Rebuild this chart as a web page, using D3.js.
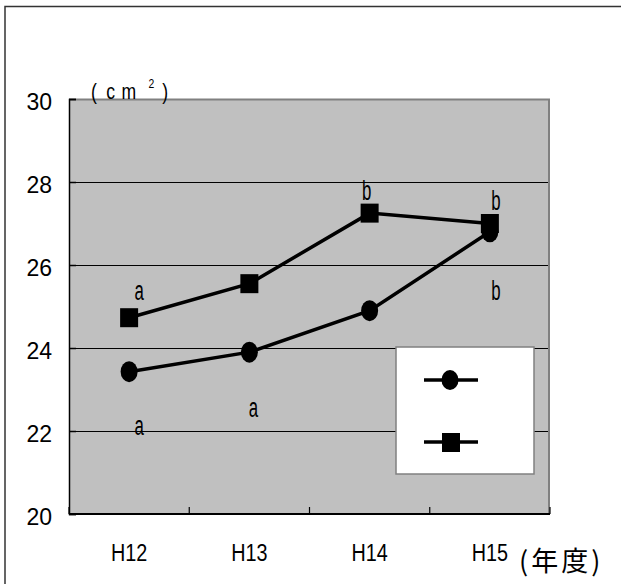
<!DOCTYPE html>
<html>
<head>
<meta charset="utf-8">
<script src="https://cdn.jsdelivr.net/npm/d3@7"></script>
<style>
  body { margin: 0; background: #fff; }
  svg { display: block; }
</style>
</head>
<body>
<div id="chart"></div>
<script>
//data
const years = ['H12', 'H13', 'H14', 'H15'];
const circleValues = [23.43, 23.9, 24.9, 26.8];
const squareValues = [24.73, 25.55, 27.25, 27.0];
const yTicks = [20, 22, 24, 26, 28, 30];
// significance letters, value = baseline in data units
const letters = [
	{ year: 'H12', text: 'a', value: 25.16 },
	{ year: 'H12', text: 'a', value: 21.9 },
	{ year: 'H13', text: 'a', value: 22.34 },
	{ year: 'H14', text: 'b', value: 27.57 },
	{ year: 'H15', text: 'b', value: 27.33 },
	{ year: 'H15', text: 'b', value: 25.16 },
];

//layout
const width = 621;
const height = 584;
const margin = { top: 99, right: 71, bottom: 70, left: 69 };
const plotW = width - margin.left - margin.right;
const plotH = height - margin.top - margin.bottom;
const letterDx = [10, 10, 4, -3, 6, 6];
const latin = 'Liberation Sans, Arial, sans-serif';

const svg = d3
	.select('#chart')
	.append('svg')
	.attr('width', width)
	.attr('height', height);

// outer frame
svg.append('rect')
	.attr('x', 5)
	.attr('y', 6.5)
	.attr('width', width + 10)
	.attr('height', height + 10)
	.attr('fill', 'none')
	.attr('stroke', '#333')
	.attr('stroke-width', 1.5);

const x = d3.scaleBand().domain(years).range([0, plotW]);
const y = d3.scaleLinear().domain([20, 30]).range([plotH, 0]);
const cx = (year) => x(year) + x.bandwidth() / 2;

const g = svg.append('g').attr('transform', translation(margin.left, margin.top));

g.append('rect')
	.attr('width', plotW)
	.attr('height', plotH)
	.attr('fill', '#c0c0c0');

// grid
g.selectAll('.grid')
	.data(yTicks.slice(1, -1))
	.enter()
	.append('line')
	.attr('x1', 0)
	.attr('x2', plotW)
	.attr('y1', (d) => y(d) + 0.5)
	.attr('y2', (d) => y(d) + 0.5)
	.attr('stroke', '#000')
	.attr('stroke-width', 1);

// top and right plot border
g.append('path')
	.attr('d', `M0,0.5H${plotW - 1}V${plotH}`)
	.attr('fill', 'none')
	.attr('stroke', '#808080')
	.attr('stroke-width', 2);

// y axis
const yAxis = g.append('g').call(
	d3.axisLeft(y).tickValues(yTicks).tickSize(-7).tickPadding(17)
);
yAxis.select('.domain').attr('stroke', '#000').attr('stroke-width', 1.5);
yAxis.selectAll('.tick line').attr('stroke', '#000').attr('stroke-width', 1.5);
yAxis.selectAll('text')
	.attr('font-family', latin)
	.attr('font-size', 23)
	.attr('dy', '0.45em')
	.attr('fill', '#000');

// x axis
const xTickPos = years.map((d) => x(d)).concat([plotW]);
const xAxisG = g.append('g').attr('transform', translation(0, plotH));
xAxisG.append('line')
	.attr('x1', 0)
	.attr('x2', plotW)
	.attr('stroke', '#000')
	.attr('stroke-width', 2);
xAxisG.selectAll('.xtick')
	.data(xTickPos)
	.enter()
	.append('line')
	.attr('x1', (d) => d)
	.attr('x2', (d) => d)
	.attr('y1', 0)
	.attr('y2', -7)
	.attr('stroke', '#000')
	.attr('stroke-width', 1.2);
xAxisG.selectAll('.xlabel')
	.data(years)
	.enter()
	.append('text')
	.attr('text-anchor', 'middle')
	.attr('font-family', latin)
	.attr('font-size', 23)
	.attr('transform', (d) => `translate(${cx(d)},47) scale(0.86,1)`)
	.text((d) => d);

// unit labels
const unit = svg.append('text')
	.attr('font-family', latin)
	.attr('font-size', 22)
	.attr('transform', 'translate(91,99) scale(0.8,1)');
[['(', 0], ['c', 19], ['m', 38], [')', 89]].forEach(([t, px]) => {
	unit.append('tspan').attr('x', px).attr('y', 0).text(t);
});
unit.append('tspan')
	.attr('x', 72)
	.attr('y', -11)
	.attr('font-size', 13)
	.text('2');

svg.append('text')
	.attr('x', 519)
	.attr('y', 571)
	.attr('font-family', 'Noto Sans CJK JP, sans-serif')
	.attr('font-size', 27)
	.attr('letter-spacing', 3)
	.text('(年度)');

// lines
const line = d3
	.line()
	.x((d, i) => cx(years[i]))
	.y((d) => y(d));

[circleValues, squareValues].forEach((vals) => {
	g.append('path')
		.datum(vals)
		.attr('d', line)
		.attr('fill', 'none')
		.attr('stroke', '#000')
		.attr('stroke-width', 3.5);
});

g.selectAll('.sq')
	.data(squareValues)
	.enter()
	.append('rect')
	.attr('x', (d, i) => cx(years[i]) - 9)
	.attr('y', (d) => y(d) - 9.5)
	.attr('width', 18)
	.attr('height', 19)
	.attr('fill', '#000');

g.selectAll('.dot')
	.data(circleValues)
	.enter()
	.append('ellipse')
	.attr('cx', (d, i) => cx(years[i]))
	.attr('cy', (d) => y(d))
	.attr('rx', 8.5)
	.attr('ry', 10.5)
	.attr('fill', '#000');

// letters
g.selectAll('.letter')
	.data(letters)
	.enter()
	.append('text')
	.attr('font-family', latin)
	.attr('font-size', 28)
	.attr('text-anchor', 'middle')
	.attr('transform', (d, i) => `translate(${cx(d.year) + letterDx[i]},${y(d.value)}) scale(0.6,1)`)
	.text((d) => d.text);

// legend
const legend = svg.append('g').attr('transform', translation(396, 347));
legend.append('rect')
	.attr('width', 138)
	.attr('height', 127)
	.attr('fill', '#fff')
	.attr('stroke', '#808080')
	.attr('stroke-width', 1.5);
const legendItems = ['circle', 'square'];
legendItems.forEach((type, i) => {
	let ly = 33 + i * 62;
	legend.append('line')
		.attr('x1', 28)
		.attr('x2', 82)
		.attr('y1', ly)
		.attr('y2', ly)
		.attr('stroke', '#000')
		.attr('stroke-width', 3.5);
	if (type === 'circle') {
		legend.append('ellipse')
			.attr('cx', 54)
			.attr('cy', ly)
			.attr('rx', 8.5)
			.attr('ry', 10)
			.attr('fill', '#000');
	} else {
		legend.append('rect')
			.attr('x', 46)
			.attr('y', ly - 9)
			.attr('width', 18)
			.attr('height', 19)
			.attr('fill', '#000');
	}
});

//utils
function translation(x, y) {
	return `translate(${x}, ${y})`;
}
</script>
</body>
</html>
